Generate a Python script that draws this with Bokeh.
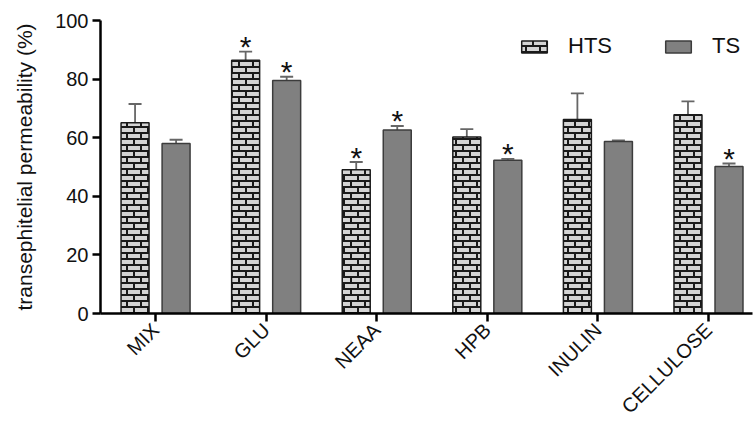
import base64
from bokeh.plotting import figure
from bokeh.models import (ColumnDataSource, FixedTicker, Whisker, TeeHead, Legend,
                          LegendItem, ImageURLTexture)
from bokeh.transform import dodge
from bokeh.core.properties import value
from bokeh.embed import file_html
from bokeh.resources import INLINE

# ---- data ----
categories = ["MIX", "GLU", "NEAA", "HPB", "INULIN", "CELLULOSE"]
hts_mean = [65.1, 86.4, 49.1, 60.2, 66.2, 67.8]
hts_err = [6.4, 3.0, 2.6, 2.7, 8.9, 4.6]
ts_mean = [58.0, 79.5, 62.6, 52.3, 58.7, 50.2]
ts_err = [1.3, 1.3, 1.4, 0.5, 0.4, 1.0]
hts_star = [False, True, True, False, False, False]
ts_star = [False, True, True, True, False, True]
y_ticks = [0, 20, 40, 60, 80, 100]

FONT = "Liberation Sans"
idx = list(range(len(categories)))

src_h = ColumnDataSource(dict(x=idx, top=hts_mean,
                              up=[m + e for m, e in zip(hts_mean, hts_err)]))
src_t = ColumnDataSource(dict(x=idx, top=ts_mean,
                              up=[m + e for m, e in zip(ts_mean, ts_err)]))

sh = [(i, m + e) for i, m, e, s in zip(idx, hts_mean, hts_err, hts_star) if s]
st = [(i, m + e) for i, m, e, s in zip(idx, ts_mean, ts_err, ts_star) if s]
src_sh = ColumnDataSource(dict(x=[a for a, b in sh], y=[b for a, b in sh], t=["*"] * len(sh)))
src_st = ColumnDataSource(dict(x=[a for a, b in st], y=[b for a, b in st], t=["*"] * len(st)))

# brick texture tile
svg = ("<svg xmlns='http://www.w3.org/2000/svg' width='14' height='12'>"
       "<rect width='14' height='12' fill='#d4d4d4'/>"
       "<rect x='0' y='0' width='14' height='2' fill='#1a1a1a'/>"
       "<rect x='0' y='6' width='14' height='2' fill='#1a1a1a'/>"
       "<rect x='0' y='0' width='2' height='6' fill='#1a1a1a'/>"
       "<rect x='7' y='6' width='2' height='6' fill='#1a1a1a'/>"
       "</svg>")
uri = "data:image/svg+xml;base64," + base64.b64encode(svg.encode()).decode()
brick = ImageURLTexture(url=uri)

p = figure(width=753, height=428, output_backend="svg", toolbar_location=None,
           x_range=(-0.498, 5.398), y_range=(0, 100),
           min_border_left=100, min_border_right=1, min_border_top=20,
           min_border_bottom=115)
p.outline_line_color = None
p.xgrid.visible = False
p.ygrid.visible = False

off = 0.1855
bw = 0.253
r_h = p.vbar(x=dodge("x", -off, range=p.x_range), top="top", bottom=0, width=bw,
             source=src_h, fill_color="#d4d4d4", line_color="#1a1a1a", line_width=1.5,
             hatch_pattern=value("brick"), hatch_extra={"brick": brick},
             hatch_color="#1a1a1a")
r_t = p.vbar(x=dodge("x", off, range=p.x_range), top="top", bottom=0, width=bw,
             source=src_t, fill_color="#808080", line_color="#3c3c3c", line_width=1.5)

for src, o in ((src_h, -off), (src_t, off)):
    w = Whisker(source=src, base=dodge("x", o, range=p.x_range), upper="up", lower="top",
                line_color="#666666", line_width=1.8,
                upper_head=TeeHead(size=13, line_color="#666666", line_width=1.8),
                lower_head=None)
    p.add_layout(w)

for src, o in ((src_sh, -off), (src_st, off)):
    p.text(x=dodge("x", o, range=p.x_range), y="y", text="t", source=src,
           text_font=value(FONT), text_font_size="30px", text_color="#111111",
           text_align="center", text_baseline="middle", y_offset=-5)

# axes
p.xaxis.ticker = FixedTicker(ticks=idx)
p.xaxis.major_label_overrides = {i: c for i, c in zip(idx, categories)}
p.xaxis.major_label_orientation = 0.785398
p.xaxis.major_label_text_font = FONT
p.xaxis.major_label_text_font_size = "20px"
p.xaxis.major_label_text_color = "#111111"
p.xaxis.major_label_standoff = 5
p.xaxis.major_tick_out = 8
p.xaxis.major_tick_in = 0
p.xaxis.minor_tick_line_color = None
p.xaxis.axis_line_width = 2.5
p.xaxis.major_tick_line_width = 2.5

p.yaxis.ticker = FixedTicker(ticks=y_ticks)
p.yaxis.major_label_text_font = FONT
p.yaxis.major_label_text_font_size = "20px"
p.yaxis.major_label_text_color = "#111111"
p.yaxis.major_tick_out = 8
p.yaxis.major_tick_in = 0
p.yaxis.minor_tick_line_color = None
p.yaxis.axis_line_width = 2.5
p.yaxis.major_tick_line_width = 2.5
p.yaxis.major_label_standoff = 4
p.yaxis.axis_label = "transephitelial permeability (%)"
p.yaxis.axis_label_text_font = FONT
p.yaxis.axis_label_text_font_size = "21px"
p.yaxis.axis_label_text_font_style = "normal"
p.yaxis.axis_label_text_color = "#111111"
p.yaxis.axis_label_standoff = 16

legend = Legend(items=[LegendItem(label="HTS", renderers=[r_h]),
                       LegendItem(label="TS", renderers=[r_t])],
                orientation="horizontal", location=(418, 254),
                glyph_width=32, glyph_height=15, label_standoff=18, spacing=50,
                padding=0, margin=0, border_line_color=None, background_fill_alpha=0,
                label_text_font=FONT, label_text_font_size="22px",
                label_text_color="#111111")
p.add_layout(legend)

open("out.html", "w").write(file_html(p, INLINE))
